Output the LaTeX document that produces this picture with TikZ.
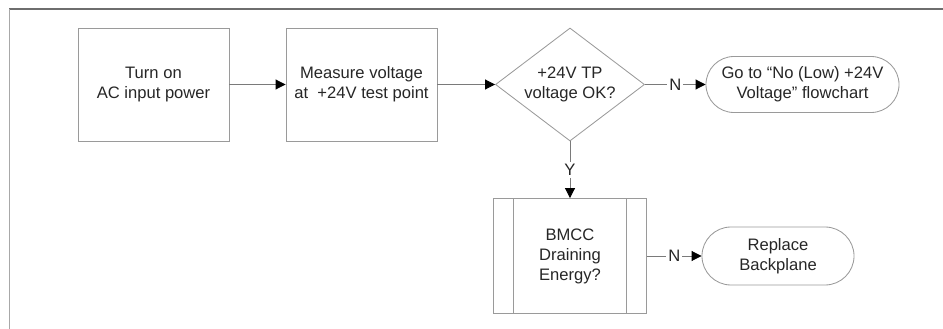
\documentclass[tikz,border=0pt]{standalone}
\usepackage{fontspec}
\setmainfont{Liberation Sans}
\usetikzlibrary{arrows.meta,shapes.geometric}

\definecolor{boxline}{HTML}{9A9A9A}
\definecolor{linkline}{HTML}{7A7A7A}
\definecolor{labeltext}{HTML}{262626}
\definecolor{framedark}{HTML}{6E6E6E}
\definecolor{framelight}{HTML}{A8A8A8}

\begin{document}
\begin{tikzpicture}[x=0.025cm, y=-0.025cm,
  every node/.style={font=\fontsize{11.8}{14.2}\selectfont, text=labeltext, align=center},
  procbox/.style={draw=boxline, line width=0.6pt, minimum width=3.775cm,
    minimum height=2.825cm, inner sep=0pt},
  decision/.style={diamond, draw=boxline, line width=0.6pt, minimum width=3.725cm,
    minimum height=2.825cm, inner sep=0pt, aspect=1.32},
  terminal/.style={draw=boxline, line width=0.6pt, rounded corners=0.7cm,
    minimum height=1.4cm, inner sep=0pt},
  subproc/.style={procbox, minimum width=3.825cm, minimum height=2.875cm,
    path picture={
      \draw[boxline, line width=0.6pt]
        ([xshift=0.5cm]path picture bounding box.north west) --
        ([xshift=0.5cm]path picture bounding box.south west)
        ([xshift=-0.5cm]path picture bounding box.north east) --
        ([xshift=-0.5cm]path picture bounding box.south east);}},
  link/.style={draw=linkline, line width=0.6pt,
    -{Triangle[length=7pt, width=7pt, color=black]}},
  branch/.style={fill=white, inner sep=1.5pt}
]
  \useasboundingbox (0,0) rectangle (943,329);

  % Frame
  \draw[framedark, line width=0.8pt] (9,9) -- (943,9);
  \draw[framelight, line width=0.8pt] (9.5,9) -- (9.5,329);

  % Top row
  \coordinate (P1) at (153.5, 84.5);
  \coordinate (P2) at (361.5, 84.5);
  \coordinate (P3) at (570, 84.5);
  \coordinate (P4) at (802.5, 84.5);

  \node[procbox] (turnon) at (P1) {Turn on\\AC input power};
  \node[procbox] (measure) at (P2) {Measure voltage\\at \ +24V test point};
  \node[decision] (tpok) at (P3) {+24V TP\\voltage OK?};
  \node[terminal, minimum width=4.825cm] (golow) at (P4)
    {Go to “No (Low) +24V\\Voltage” flowchart};

  % Bottom row
  \coordinate (P5) at (570, 256);
  \coordinate (P6) at (778, 256);

  \node[subproc] (bmcc) at (P5) {BMCC\\Draining\\Energy?};
  \node[terminal, minimum width=3.8cm, minimum height=1.45cm,
    rounded corners=0.725cm] (replace) at (P6) {Replace\\Backplane};

  % Connectors
  \draw[link] (turnon) -- (measure);
  \draw[link] (measure) -- (tpok);
  \draw[link] (tpok) -- node[branch] {N} (golow);
  \draw[link] (tpok) -- node[branch] {Y} (bmcc);
  \draw[link] (bmcc) -- node[branch] {N} (replace);
\end{tikzpicture}
\end{document}
